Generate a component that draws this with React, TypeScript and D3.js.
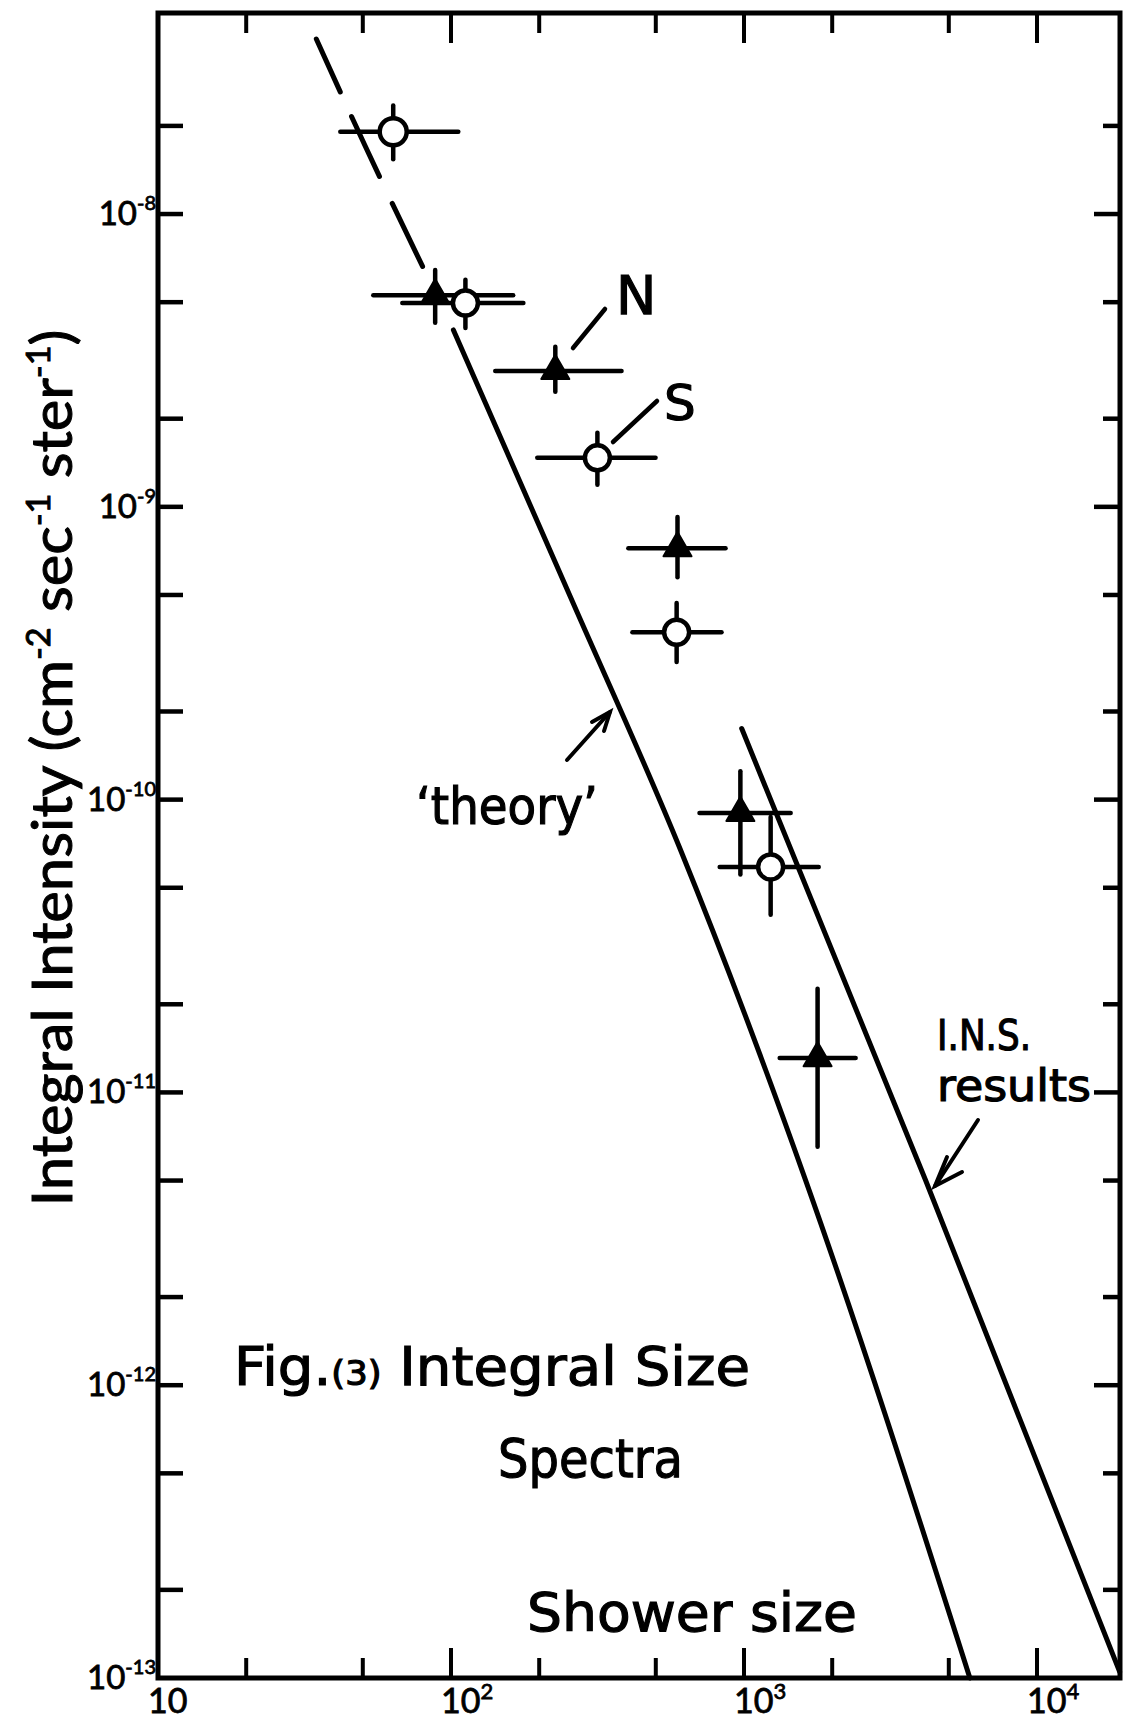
import React from "react";
import * as d3 from "d3";

const WIDTH = 1132;
const HEIGHT = 1728;

// Axis domains (shower size, integral intensity)
const sizeDomain = [10, 19200];
const intensityDomain = [1e-13, 4.86e-8];

// Ticks
const xMajorTicks = [10, 100, 1000, 10000];
const xMinorTicks = [20, 50, 200, 500, 2000, 5000];
const xTickExponents = ["", "2", "3", "4"];
const yMajorTicks = [1e-13, 1e-12, 1e-11, 1e-10, 1e-9, 1e-8];
const yMinorTicks = [2e-13, 5e-13, 2e-12, 5e-12, 2e-11, 5e-11, 2e-10, 5e-10, 2e-9, 5e-9, 2e-8];
const yTickExponents = ["-13", "-12", "-11", "-10", "-9", "-8"];

// S series (open circles)
const sSize = [63.5, 112, 316, 589, 1233];
const sIntensity = [1.91e-8, 4.97e-9, 1.47e-9, 3.73e-10, 5.89e-11];
const sSizeLow = [41.9, 68.2, 197, 416, 826];
const sSizeHigh = [105.9, 176.6, 499, 838, 1799];
const sIntLow = [1.54e-8, 4.08e-9, 1.19e-9, 2.95e-10, 4.04e-11];
const sIntHigh = [2.35e-8, 5.96e-9, 1.79e-9, 4.69e-10, 8.73e-11];

// N series (filled triangles)
const nSize = [88.3, 227, 593, 972, 1783];
const nIntensity = [5.28e-9, 2.91e-9, 7.22e-10, 9.0e-11, 1.31e-11];
const nSizeLow = [54.3, 141.6, 403, 705, 1324];
const nSizeHigh = [163, 382, 865, 1443, 2404];
const nIntLow = [4.25e-9, 2.47e-9, 5.75e-10, 5.55e-11, 6.52e-12];
const nIntHigh = [6.44e-9, 3.52e-9, 9.23e-10, 1.25e-10, 2.26e-11];

// 'theory' curve: dashed upper part and solid part
const theoryDashedSize = [34.7, 50.9, 80.4];
const theoryDashedIntensity = [3.96e-8, 1.71e-8, 6.55e-9];
const theorySize = [101.9, 255.7, 607.4, 1622, 5902];
const theoryIntensity = [4.02e-9, 4.92e-10, 6.73e-11, 5.02e-12, 1.0e-13];

// I.N.S. results line
const insSize = [982, 4170, 19150];
const insIntensity = [1.75e-10, 5.0e-12, 1.05e-13];

const INK = "#000";
const LABEL_FONT = "Lato, 'Open Sans', 'DejaVu Sans', sans-serif";
const HAND_FONT = "'DejaVu Sans', 'Open Sans', sans-serif";

export default function App() {
  const x = d3.scaleLog().domain(sizeDomain).range([158, 1120]);
  const y = d3.scaleLog().domain(intensityDomain).range([1678, 13]);
  const [left, right] = x.range();
  const [bottom, top] = y.range();

  const line = d3
    .line<[number, number]>()
    .x((d) => x(d[0]))
    .y((d) => y(d[1]))
    .curve(d3.curveMonotoneX);

  const theoryDashed = line(theoryDashedSize.map((s, i) => [s, theoryDashedIntensity[i]]));
  const theorySolid = line(theorySize.map((s, i) => [s, theoryIntensity[i]]));
  const insLine = line(insSize.map((s, i) => [s, insIntensity[i]]));
  const triangle = d3.symbol(d3.symbolTriangle, 340)();

  const errW = 4.5;

  return (
    <svg
      width={WIDTH}
      height={HEIGHT}
      viewBox={`0 0 ${WIDTH} ${HEIGHT}`}
      style={{ position: "absolute", left: 0, top: 0, background: "#fff" }}
    >
      <rect x={0} y={0} width={WIDTH} height={HEIGHT} fill="#fff" />

      {/* frame */}
      <rect x={left} y={top} width={right - left} height={bottom - top} fill="none" stroke={INK} strokeWidth={5} />

      {/* x ticks bottom & top */}
      {xMajorTicks.concat(xMinorTicks).map((t, i) => {
        const major = xMajorTicks.includes(t);
        const len = major ? 30 : 20;
        if (t === 10) return null;
        return (
          <g key={"xt" + i}>
            <line x1={x(t)} x2={x(t)} y1={bottom} y2={bottom - len} stroke={INK} strokeWidth={4} />
            <line x1={x(t)} x2={x(t)} y1={top} y2={top + len} stroke={INK} strokeWidth={4} />
          </g>
        );
      })}

      {/* y ticks left & right */}
      {yMajorTicks.concat(yMinorTicks).map((t, i) => {
        const major = yMajorTicks.includes(t);
        if (t === 1e-13) return null;
        return (
          <g key={"yt" + i}>
            <line x1={left} x2={left + 25} y1={y(t)} y2={y(t)} stroke={INK} strokeWidth={4.5} />
            <line x1={right} x2={right - (major ? 26 : 17)} y1={y(t)} y2={y(t)} stroke={INK} strokeWidth={4.5} />
          </g>
        );
      })}

      {/* x tick labels */}
      {xMajorTicks.map((t, i) => (
        <text
          key={"xl" + i}
          x={x(t) - 10}
          y={1713}
          fontFamily={LABEL_FONT}
          fontSize={34}
          fill={INK}
          stroke={INK}
          strokeWidth={0.8}
        >
          10
          {xTickExponents[i] && (
            <tspan dy={-14} fontSize={22}>
              {xTickExponents[i]}
            </tspan>
          )}
        </text>
      ))}

      {/* y tick labels */}
      {yMajorTicks.map((t, i) => (
        <text
          key={"yl" + i}
          x={left - 2}
          y={y(t) + 11}
          textAnchor="end"
          fontFamily={LABEL_FONT}
          fontSize={33}
          fill={INK}
          stroke={INK}
          strokeWidth={0.8}
        >
          10
          <tspan dy={-15} fontSize={20}>
            {yTickExponents[i]}
          </tspan>
        </text>
      ))}

      {/* y axis title */}
      <text
        transform="translate(72, 768) rotate(-90)"
        textAnchor="middle"
        fontFamily={LABEL_FONT}
        fontSize={56}
        fill={INK}
        stroke={INK}
        strokeWidth={1}
        textLength={877}
        lengthAdjust="spacingAndGlyphs"
      >
        Integral Intensity (cm
        <tspan dy={-22} fontSize={32}>-2</tspan>
        <tspan dy={22}> sec</tspan>
        <tspan dy={-22} fontSize={32}>-1</tspan>
        <tspan dy={22}> ster</tspan>
        <tspan dy={-22} fontSize={32}>-1</tspan>
        <tspan dy={22}>)</tspan>
      </text>

      {/* theory curve */}
      <path d={theoryDashed || ""} fill="none" stroke={INK} strokeWidth={5} strokeLinecap="round" strokeDasharray="58 27 66 30 70 200" />
      <path d={theorySolid || ""} fill="none" stroke={INK} strokeWidth={5} strokeLinecap="round" />
      {/* I.N.S. line */}
      <path d={insLine || ""} fill="none" stroke={INK} strokeWidth={5} strokeLinecap="round" />

      {/* N series error bars and markers */}
      {nSize.map((s, i) => (
        <g key={"n" + i}>
          <line x1={x(nSizeLow[i])} x2={x(nSizeHigh[i])} y1={y(nIntensity[i])} y2={y(nIntensity[i])} stroke={INK} strokeWidth={errW} strokeLinecap="round" />
          <line x1={x(s)} x2={x(s)} y1={y(nIntLow[i])} y2={y(nIntHigh[i])} stroke={INK} strokeWidth={errW} strokeLinecap="round" />
          <path d={triangle || ""} transform={`translate(${x(s)},${y(nIntensity[i])})`} fill={INK} stroke={INK} strokeWidth={2} strokeLinejoin="round" />
        </g>
      ))}

      {/* S series error bars and markers */}
      {sSize.map((s, i) => (
        <g key={"s" + i}>
          <line x1={x(sSizeLow[i])} x2={x(sSizeHigh[i])} y1={y(sIntensity[i])} y2={y(sIntensity[i])} stroke={INK} strokeWidth={errW} strokeLinecap="round" />
          <line x1={x(s)} x2={x(s)} y1={y(sIntLow[i])} y2={y(sIntHigh[i])} stroke={INK} strokeWidth={errW} strokeLinecap="round" />
          <circle cx={x(s)} cy={y(sIntensity[i])} r={i === 0 ? 13.5 : 12.5} fill="#fff" stroke={INK} strokeWidth={4.5} />
        </g>
      ))}

      {/* annotations */}
      <g fontFamily={HAND_FONT} fill={INK} stroke={INK} strokeWidth={1.2}>
        <line x1={573} y1={348} x2={605} y2={309} strokeWidth={4.5} strokeLinecap="round" />
        <text x={616} y={314} fontSize={54}>N</text>
        <line x1={613} y1={442} x2={657} y2={401} strokeWidth={4.5} strokeLinecap="round" />
        <text x={664} y={420} fontSize={50}>S</text>

        <text x={416} y={824} fontSize={52} textLength={182} lengthAdjust="spacingAndGlyphs">‘theory’</text>
        <g strokeWidth={4} strokeLinecap="round" fill="none">
          <line x1={567} y1={760} x2={610} y2={712} />
          <polyline points="592,722 610,712 604,731" />
        </g>

        <text x={937} y={1050} fontSize={42} textLength={94} lengthAdjust="spacingAndGlyphs">I.N.S.</text>
        <text x={937} y={1101} fontSize={44} textLength={154} lengthAdjust="spacingAndGlyphs">results</text>
        <g strokeWidth={4} strokeLinecap="round" fill="none">
          <line x1={978} y1={1120} x2={935} y2={1186} />
          <polyline points="947,1157 935,1186 962,1172" />
        </g>

        <text x={234} y={1385} fontSize={54} textLength={516} lengthAdjust="spacingAndGlyphs">
          Fig.<tspan fontSize={34}>(3)</tspan> Integral Size
        </text>
        <text x={498} y={1477} fontSize={54} textLength={185} lengthAdjust="spacingAndGlyphs">Spectra</text>
        <text x={527} y={1631} fontSize={54} textLength={330} lengthAdjust="spacingAndGlyphs">Shower size</text>
      </g>
    </svg>
  );
}
